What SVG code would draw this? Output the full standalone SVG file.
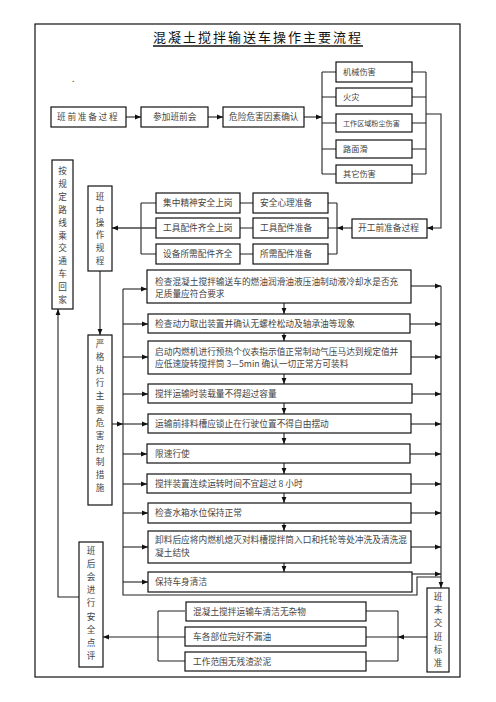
<svg xmlns="http://www.w3.org/2000/svg" width="496" height="702" viewBox="0 0 496 702">
<defs>
<marker id="a" viewBox="0 0 10 10" refX="10" refY="5" markerWidth="6" markerHeight="6" markerUnits="userSpaceOnUse" orient="auto"><path d="M0,1 L10,5 L0,9 z" fill="#111"/></marker>
<style>
.b{fill:#fff;stroke:#111;stroke-width:1.2}
.t{font-family:"Noto Sans CJK SC","Noto Sans",sans-serif;font-size:8.7px;fill:#444}
.v{font-family:"Noto Sans CJK SC","Noto Sans",sans-serif;font-size:8.6px;fill:#444;text-anchor:middle}
.c path{fill:none;stroke:#222;stroke-width:1.1}
.c .m{marker-end:url(#a)}
</style>
</defs>
<rect x="0" y="0" width="496" height="702" fill="#fff"/>
<rect x="35" y="24" width="425" height="653" fill="none" stroke="#111" stroke-width="1.2"/>
<g id="title">
<text x="258" y="42" text-anchor="middle" style="font-family:'Noto Sans CJK SC','Noto Sans',sans-serif;font-size:13px;letter-spacing:2px;fill:#111">混凝土搅拌输送车操作主要流程</text>
<line x1="153" y1="46" x2="363" y2="46" stroke="#111" stroke-width="1.5"/>
<text x="72" y="82" class="t">.</text>
</g>
<g class="c" id="connectors">
<path class="m" d="M126,117 H141"/>
<path class="m" d="M208,117 H223"/>
<path class="m" d="M304,117 H322"/>
<path d="M322,72 V174 M322,72 H336 M322,97 H336 M322,123 H336 M322,149 H336 M322,174 H336"/>
<path d="M426,72 V174 M412,72 H426 M412,97 H426 M412,123 H426 M412,149 H426 M412,174 H426"/>
<path class="m" d="M426,114 H441 V228 H427"/>
<path class="m" d="M352,228 H337"/>
<path d="M337,203 V254 M328,203 H337 M328,228 H337 M328,254 H337"/>
<path d="M240,203 H253 M240,228 H253 M240,254 H253"/>
<path d="M141,203 V254 M141,203 H156 M141,254 H156"/>
<path class="m" d="M156,228 H112" style="stroke-width:1.6;stroke:#444"/>
<path class="m" d="M100,271 V335"/>
<path class="m" d="M112,424 H123"/>
<path d="M123,289 V595 H417 V577 H441"/>
<path class="m" d="M123,289 H147"/>
<path class="m" d="M123,324 H148"/>
<path class="m" d="M123,357 H148"/>
<path class="m" d="M123,394 H148"/>
<path class="m" d="M123,424 H148"/>
<path class="m" d="M123,454 H147"/>
<path class="m" d="M123,484 H147"/>
<path class="m" d="M123,513 H148"/>
<path class="m" d="M123,547 H148"/>
<path class="m" d="M123,582 H148"/>
<path class="m" d="M411,286 H441"/>
<path class="m" d="M410,324 H441"/>
<path class="m" d="M411,357 H441"/>
<path class="m" d="M412,394 H441"/>
<path class="m" d="M411,424 H441"/>
<path class="m" d="M410,454 H441"/>
<path class="m" d="M411,484 H441"/>
<path class="m" d="M411,513 H441"/>
<path class="m" d="M411,547 H441"/>
<path class="m" d="M412,574 H441"/>
<path class="m" d="M441,286 V588"/>
<path class="m" d="M284,303 V314"/>
<path class="m" d="M284,333 V341"/>
<path class="m" d="M284,374 V384"/>
<path class="m" d="M284,403 V414"/>
<path class="m" d="M284,433 V444"/>
<path class="m" d="M284,463 V474"/>
<path class="m" d="M284,493 V503"/>
<path class="m" d="M284,523 V531"/>
<path class="m" d="M284,563 V572"/>
<path class="m" d="M427,637 H398"/>
<path d="M398,611 V661 M366,611 H398 M366,637 H398 M366,661 H398"/>
<path d="M158,611 V661 M158,611 H185 M158,637 H185 M158,661 H185"/>
<path class="m" d="M158,637 H103"/>
<path class="m" d="M79,597 H58 V309"/>
</g>
<g id="n-prep"><rect class="b" x="51" y="107" width="75" height="20"/><text class="t" x="57" y="120" style="letter-spacing:1.7px">班前准备过程</text></g>
<g id="n-meeting"><rect class="b" x="141" y="107" width="67" height="20"/><text class="t" x="153" y="120">参加班前会</text></g>
<g id="n-hazard"><rect class="b" x="223" y="107" width="81" height="20"/><text class="t" x="229" y="120">危险危害因素确认</text></g>
<g id="n-h1"><rect class="b" x="336" y="62" width="76" height="20"/><text class="t" x="343" y="75" style="font-size:8.2px">机械伤害</text></g>
<g id="n-h2"><rect class="b" x="336" y="88" width="76" height="18"/><text class="t" x="343" y="100" style="font-size:8.2px">火灾</text></g>
<g id="n-h3"><rect class="b" x="336" y="114" width="76" height="18"/><text class="t" x="343" y="126" style="font-size:7.1px">工作区域粉尘伤害</text></g>
<g id="n-h4"><rect class="b" x="336" y="140" width="76" height="18"/><text class="t" x="343" y="152" style="font-size:8.2px">路面滑</text></g>
<g id="n-h5"><rect class="b" x="336" y="165" width="76" height="18"/><text class="t" x="343" y="177" style="font-size:8.2px">其它伤害</text></g>
<g id="n-start"><rect class="b" x="352" y="219" width="75" height="19"/><text class="t" x="358" y="231">开工前准备过程</text></g>
<g id="n-m1"><rect class="b" x="156" y="193" width="84" height="20"/><text class="t" x="163" y="206">集中精神安全上岗</text></g>
<g id="n-m2"><rect class="b" x="156" y="218" width="84" height="20"/><text class="t" x="163" y="231">工具配件齐全上岗</text></g>
<g id="n-m3"><rect class="b" x="156" y="244" width="84" height="20"/><text class="t" x="163" y="257">设备所需配件齐全</text></g>
<g id="n-p1"><rect class="b" x="253" y="193" width="75" height="20"/><text class="t" x="260" y="206">安全心理准备</text></g>
<g id="n-p2"><rect class="b" x="253" y="218" width="75" height="20"/><text class="t" x="260" y="231">工具配件准备</text></g>
<g id="n-p3"><rect class="b" x="253" y="244" width="75" height="20"/><text class="t" x="260" y="257">所需配件准备</text></g>
<g id="n-home"><rect class="b" x="52" y="160" width="21" height="149"/><text class="v" x="62.5" y="174"><tspan x="62.5">按</tspan><tspan x="62.5" dy="12.9">规</tspan><tspan x="62.5" dy="12.9">定</tspan><tspan x="62.5" dy="12.9">路</tspan><tspan x="62.5" dy="12.9">线</tspan><tspan x="62.5" dy="12.9">乘</tspan><tspan x="62.5" dy="12.9">交</tspan><tspan x="62.5" dy="12.9">通</tspan><tspan x="62.5" dy="12.9">车</tspan><tspan x="62.5" dy="12.9">回</tspan><tspan x="62.5" dy="12.9">家</tspan></text></g>
<g id="n-rules"><rect class="b" x="88" y="186" width="24" height="85"/><text class="v" x="100" y="200"><tspan x="100">班</tspan><tspan x="100" dy="12.8">中</tspan><tspan x="100" dy="12.8">操</tspan><tspan x="100" dy="12.8">作</tspan><tspan x="100" dy="12.8">规</tspan><tspan x="100" dy="12.8">程</tspan></text></g>
<g id="n-control"><rect class="b" x="88" y="335" width="24" height="170"/><text class="v" x="100" y="347"><tspan x="100">严</tspan><tspan x="100" dy="13.1">格</tspan><tspan x="100" dy="13.1">执</tspan><tspan x="100" dy="13.1">行</tspan><tspan x="100" dy="13.1">主</tspan><tspan x="100" dy="13.1">要</tspan><tspan x="100" dy="13.1">危</tspan><tspan x="100" dy="13.1">害</tspan><tspan x="100" dy="13.1">控</tspan><tspan x="100" dy="13.1">制</tspan><tspan x="100" dy="13.1">措</tspan><tspan x="100" dy="13.1">施</tspan></text></g>
<g id="n-review"><rect class="b" x="79" y="542" width="24" height="125"/><text class="v" x="91" y="554"><tspan x="91">班</tspan><tspan x="91" dy="13.1">后</tspan><tspan x="91" dy="13.1">会</tspan><tspan x="91" dy="13.1">进</tspan><tspan x="91" dy="13.1">行</tspan><tspan x="91" dy="13.1">安</tspan><tspan x="91" dy="13.1">全</tspan><tspan x="91" dy="13.1">点</tspan><tspan x="91" dy="13.1">评</tspan></text></g>
<g id="n-handover"><rect class="b" x="427" y="588" width="22" height="84"/><text class="v" x="438" y="600"><tspan x="438">班</tspan><tspan x="438" dy="13.2">末</tspan><tspan x="438" dy="13.2">交</tspan><tspan x="438" dy="13.2">班</tspan><tspan x="438" dy="13.2">标</tspan><tspan x="438" dy="13.2">准</tspan></text></g>
<g id="n-s1"><rect class="b" x="147" y="270" width="264" height="33"/><text class="t" x="155" y="285">检查混凝土搅拌输送车的燃油润滑油液压油制动液冷却水是否充</text><text class="t" x="155" y="297">足质量应符合要求</text></g>
<g id="n-s2"><rect class="b" x="148" y="314" width="262" height="19"/><text class="t" x="155" y="327">检查动力取出装置并确认无螺栓松动及轴承油等现象</text></g>
<g id="n-s3"><rect class="b" x="148" y="341" width="263" height="33"/><text class="t" x="155" y="355">启动内燃机进行预热个仪表指示值正常制动气压马达到规定值并</text><text class="t" x="155" y="367">应低速旋转搅拌筒 3—5min 确认一切正常方可装料</text></g>
<g id="n-s4"><rect class="b" x="148" y="384" width="264" height="19"/><text class="t" x="155" y="397">搅拌运输时装载量不得超过容量</text></g>
<g id="n-s5"><rect class="b" x="148" y="414" width="263" height="19"/><text class="t" x="155" y="427">运输前排料槽应锁止在行驶位置不得自由摆动</text></g>
<g id="n-s6"><rect class="b" x="147" y="444" width="263" height="19"/><text class="t" x="155" y="457">限速行使</text></g>
<g id="n-s7"><rect class="b" x="147" y="474" width="264" height="19"/><text class="t" x="155" y="487">搅拌装置连续运转时间不宜超过 8 小时</text></g>
<g id="n-s8"><rect class="b" x="148" y="503" width="263" height="20"/><text class="t" x="155" y="516">检查水箱水位保持正常</text></g>
<g id="n-s9"><rect class="b" x="148" y="531" width="263" height="32"/><text class="t" x="155" y="543">卸料后应将内燃机熄灭对料槽搅拌筒入口和托轮等处冲洗及清洗混</text><text class="t" x="155" y="556">凝土结快</text></g>
<g id="n-s10"><rect class="b" x="148" y="572" width="264" height="20"/><text class="t" x="155" y="585">保持车身清洁</text></g>
<g id="n-e1"><rect class="b" x="186" y="602" width="180" height="19"/><text class="t" x="193" y="615">混凝土搅拌运输车清洁无杂物</text></g>
<g id="n-e2"><rect class="b" x="185" y="627" width="181" height="19"/><text class="t" x="193" y="640">车各部位完好不漏油</text></g>
<g id="n-e3"><rect class="b" x="185" y="652" width="181" height="19"/><text class="t" x="193" y="665">工作范围无残渣淤泥</text></g>
</svg>
